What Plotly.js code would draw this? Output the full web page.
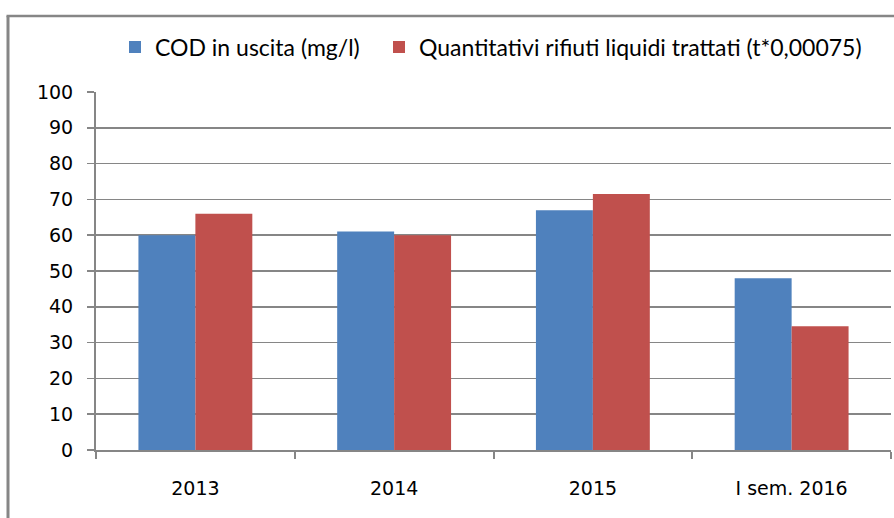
<!DOCTYPE html>
<html>
<head>
<meta charset="utf-8">
<script src="https://cdn.plot.ly/plotly-3.0.1.min.js"></script>
<style>
html,body{margin:0;padding:0;background:#fff;}
#chart{width:894px;height:518px;}
</style>
</head>
<body>
<div id="chart"></div>
<script>
var categories = ["2013", "2014", "2015", "I sem. 2016"];
var codValues = [60, 61, 67, 48];
var rifiutiValues = [66, 60, 71.5, 34.6];
var seriesNames = ["COD in uscita (mg/l)", "Quantitativi rifiuti liquidi trattati (t*0,00075)"];
var yTicks = [0, 10, 20, 30, 40, 50, 60, 70, 80, 90, 100];

var W = 894, H = 518;
var ml = 96, mr = 3, mt = 92, mb = 68;
var pw = W - ml - mr, ph = H - mt - mb;
function px(x){ return (x - ml) / pw; }
function py(y){ return (H - mb - y) / ph; }

var traces = [
  {type: "bar", name: seriesNames[0], x: categories, y: codValues, marker: {color: "#4F81BD"}, legend: "legend"},
  {type: "bar", name: seriesNames[1], x: categories, y: rifiutiValues, marker: {color: "#C0504D"}, legend: "legend2"}
];

var legendFont = {family: "Lato, 'Open Sans', sans-serif", size: 23, color: "#000"};

var layout = {
  width: W, height: H,
  margin: {l: ml, r: mr, t: mt, b: mb, pad: 0},
  paper_bgcolor: "#ffffff", plot_bgcolor: "#ffffff",
  barmode: "group", bargap: 0.427, bargroupgap: 0,
  showlegend: true,
  legend: {
    orientation: "h", x: px(115), xanchor: "left", y: py(47), yanchor: "middle",
    font: legendFont, bgcolor: "rgba(0,0,0,0)", itemclick: false
  },
  legend2: {
    orientation: "h", x: px(379), xanchor: "left", y: py(47), yanchor: "middle",
    font: legendFont, bgcolor: "rgba(0,0,0,0)", itemclick: false
  },
  xaxis: {
    type: "category", showgrid: false, showline: true, linecolor: "#868686", linewidth: 2,
    ticks: "outside", tickson: "boundaries", ticklen: 7, tickcolor: "#868686", tickwidth: 2,
    tickfont: {family: "'DejaVu Sans', Verdana, sans-serif", size: 19, color: "#000"},
    ticklabelstandoff: 20, zeroline: false, fixedrange: true
  },
  yaxis: {
    range: [0, 100], tickvals: yTicks, ticktext: yTicks.map(String),
    showgrid: true, gridcolor: "#868686", gridwidth: 1.5,
    showline: true, linecolor: "#868686", linewidth: 2,
    ticks: "outside", ticklen: 7, tickcolor: "#868686", tickwidth: 1.5,
    tickfont: {family: "'DejaVu Sans', Verdana, sans-serif", size: 19, color: "#000"},
    ticklabelstandoff: 10, zeroline: false, fixedrange: true
  },
  shapes: [
    {type: "line", xref: "paper", yref: "paper", x0: px(8), x1: px(8), y0: py(16), y1: py(540), line: {color: "#868686", width: 3}},
    {type: "line", xref: "paper", yref: "paper", x0: px(6.5), x1: px(910), y0: py(16), y1: py(16), line: {color: "#868686", width: 2.5}}
  ]
};

Plotly.newPlot("chart", traces, layout, {staticPlot: true, displayModeBar: false});
</script>
</body>
</html>
